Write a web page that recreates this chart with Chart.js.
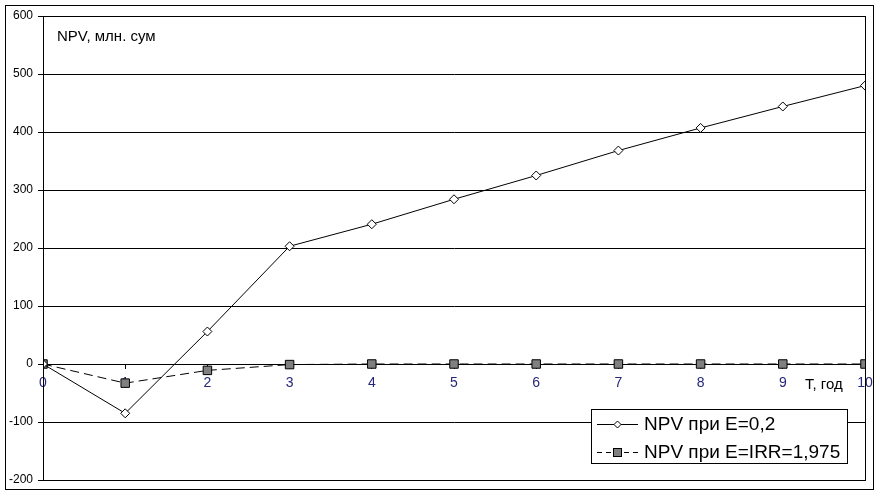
<!DOCTYPE html>
<html>
<head>
<meta charset="utf-8">
<script src="https://cdn.jsdelivr.net/npm/chart.js@4/dist/chart.umd.min.js"></script>
<style>
  html,body{margin:0;padding:0;background:#fff;}
  canvas{display:block;}
</style>
</head>
<body>
<canvas id="npv" width="880" height="497"></canvas>
<script>
// данные
const years = [0,1,2,3,4,5,6,7,8,9,10];
const npvE02 = [0,-85,56,203,241,284,325,368,407,444,480];
const npvIRR = [0,-33,-11,-1,0,0,0,0,0,0,0];
const seriesLabels = ['NPV при E=0,2','NPV при E=IRR=1,975'];
const yTicks = [-200,-100,0,100,200,300,400,500,600];
const yTitle = 'NPV, млн. сум';
const xTitle = 'T, год';

const FONT = '"Liberation Sans", Arial, sans-serif';

const frame = {
  id:'frame',
  beforeDraw(c){
    const ctx=c.ctx;
    ctx.save();
    ctx.fillStyle='#fff';
    ctx.fillRect(0,0,c.width,c.height);
    ctx.restore();
  },
  afterDraw(c){
    const ctx=c.ctx, a=c.chartArea;
    ctx.save();
    ctx.strokeStyle='#000'; ctx.lineWidth=1;
    ctx.strokeRect(Math.round(a.left)+0.5, Math.round(a.top)+0.5, Math.round(a.right-a.left), Math.round(a.bottom-a.top));
    ctx.strokeRect(5.5,5.5,868,484);
    // подписи осей
    ctx.fillStyle='#000';
    ctx.font='15px '+FONT;
    ctx.textBaseline='alphabetic';
    ctx.textAlign='left';
    ctx.fillText(yTitle, 57, 41);
    ctx.fillText(xTitle, 805, 389);
    // легенда
    const bx=591, by=409, bw=256, bh=54;
    ctx.fillStyle='#fff';
    ctx.fillRect(bx,by,bw,bh);
    ctx.strokeRect(bx+0.5,by+0.5,bw,bh);
    const rows=[424,452];
    c.data.datasets.forEach((ds,i)=>{
      const y=rows[i]+0.5;
      ctx.save();
      ctx.strokeStyle='#000'; ctx.lineWidth=1;
      ctx.setLineDash(ds.borderDash ? [5,4] : []);
      ctx.beginPath(); ctx.moveTo(597,y); ctx.lineTo(638,y); ctx.stroke();
      ctx.restore();
      ctx.save();
      ctx.fillStyle=ds.pointBackgroundColor; ctx.strokeStyle='#000'; ctx.lineWidth=1;
      if(ds.pointStyle==='rectRot'){
        const r=3.5, cx=617.5;
        ctx.beginPath(); ctx.moveTo(cx-r,y); ctx.lineTo(cx,y-r); ctx.lineTo(cx+r,y); ctx.lineTo(cx,y+r); ctx.closePath();
        ctx.fill(); ctx.stroke();
      } else {
        ctx.fillRect(614,rows[i]-3,7,7); ctx.strokeRect(613.5,rows[i]-3.5,8,8);
      }
      ctx.restore();
      ctx.fillStyle='#000';
      ctx.font='19px '+FONT;
      ctx.textBaseline='middle';
      ctx.fillText(ds.label, 644, rows[i]+1);
    });
    ctx.restore();
  }
};

new Chart(document.getElementById('npv'), {
  type:'line',
  data:{
    datasets:[
      { label:seriesLabels[0], data:years.map((x,i)=>({x, y:npvE02[i]})),
        borderColor:'#000', borderWidth:1, pointStyle:'rectRot', pointRadius:4.5,
        pointBackgroundColor:'#fff', pointBorderColor:'#000', pointBorderWidth:1, tension:0 },
      { label:seriesLabels[1], data:years.map((x,i)=>({x, y:npvIRR[i]})),
        borderColor:'#000', borderWidth:1, borderDash:[9,5], pointStyle:'rect', pointRadius:6,
        pointBackgroundColor:'#808080', pointBorderColor:'#000', pointBorderWidth:1, tension:0 }
    ]
  },
  options:{
    responsive:false, animation:false, devicePixelRatio:1,
    layout:{ padding:{ left:0, top:16, right:15, bottom:17 } },
    plugins:{ legend:{display:false}, tooltip:{enabled:false} },
    elements:{ line:{ clip:false } },
    scales:{
      x:{ type:'linear', min:0, max:10, position:{y:0},
          ticks:{ stepSize:1, color:'#26267a', font:{family:FONT, size:14}, padding:7, maxRotation:0, autoSkip:false },
          grid:{ display:true, drawOnChartArea:false, drawTicks:true, tickLength:4, color:'#000' },
          border:{ display:true, color:'#000', width:1 } },
      y:{ min:-200, max:600,
          afterBuildTicks(s){ s.ticks = yTicks.map(v=>({value:v})); },
          afterFit(s){ s.width = 43; },
          ticks:{ color:'#000', font:{family:FONT, size:12}, padding:5 },
          grid:{ color:'#000', lineWidth:1, tickLength:5 },
          border:{ display:true, color:'#000', width:1 } }
    }
  },
  plugins:[frame]
});
</script>
</body>
</html>
